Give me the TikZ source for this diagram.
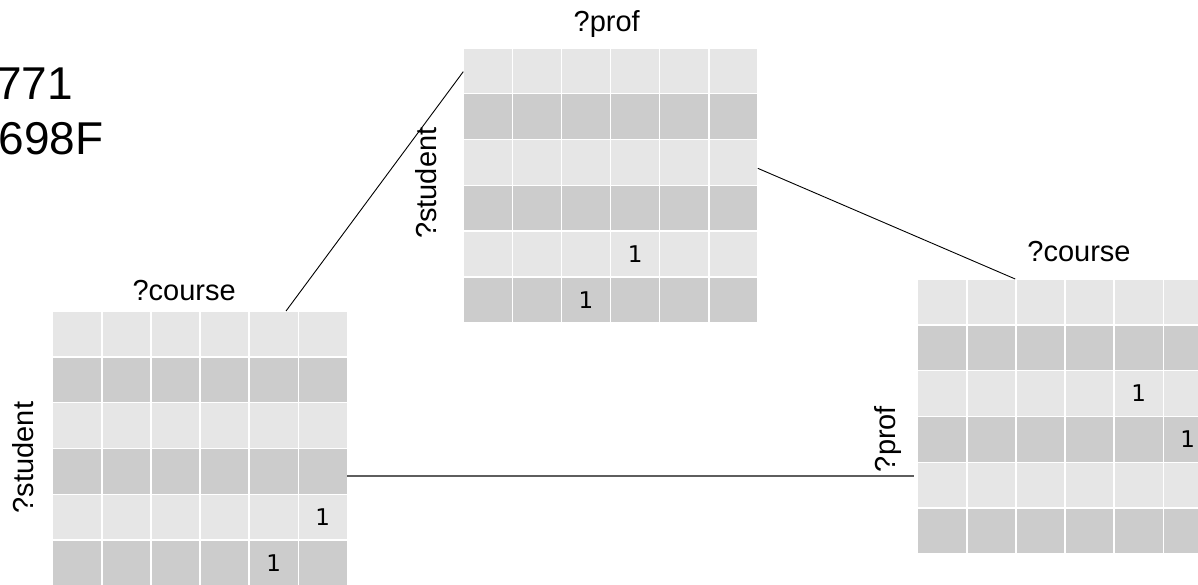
\documentclass[tikz,border=0pt]{standalone}
\usepackage{fontspec}
\setmainfont{Liberation Sans}
\newfontfamily\cellfont{DejaVu Sans}
\usetikzlibrary{calc}

\definecolor{rowlight}{HTML}{E6E6E6}
\definecolor{rowdark}{HTML}{CCCCCC}
\definecolor{linkgray}{HTML}{5E5E5E}

\tikzset{
  gridbox/.style={anchor=north west, minimum width=294.6bp, minimum height=274.8bp,
                  inner sep=0pt, outer sep=0pt},
  axislabel/.style={font=\fontsize{29bp}{34bp}\selectfont, inner sep=0pt},
  cellval/.style={font=\cellfont\fontsize{23bp}{27bp}\selectfont, inner sep=0pt},
  link/.style={black, line width=0.9bp},
  hlink/.style={linkgray, line width=1.6bp},
  bigtext/.style={font=\fontsize{46bp}{52bp}\selectfont, inner sep=0pt, anchor=base east},
}

% 6x6 grid of cells inside a named box, rows alternating light/dark
\newcommand\matrixcells[1]{%
  \foreach \r in {1,...,6}{%
    \ifodd\r\def\rowcol{rowlight}\else\def\rowcol{rowdark}\fi
    \foreach \c in {1,...,6}{%
      \filldraw[fill=\rowcol, draw=white, line width=1.4bp]
        ($(#1.north west)+({(\c-1)*49.1},{(\r-1)*45.8})$) rectangle ++(49.1,45.8);
    }%
  }%
}
% value placed in cell (row, column) of a named box
\newcommand\cellmark[4]{%
  \node[cellval] (#4) at ($(#1.north west)+({(#3-0.5)*49.1},{(#2-0.5)*45.8})$) {1};%
}

\begin{document}
\begin{tikzpicture}[x=1bp, y=-1bp]
  \useasboundingbox (0,0) rectangle (1198,585);
  \fill[white] (0,0) rectangle (1198,585);

  % identifier text
  \node[bigtext] (idA) at (73,99.5) {771};
  \node[bigtext] (idB) at (103.5,155) {698F};

  % the three matrices
  \node[gridbox] (L) at (52.7,311) {};
  \node[gridbox] (T) at (463.3,48) {};
  \node[gridbox] (R) at (917.7,279) {};
  \matrixcells{L}
  \matrixcells{T}
  \matrixcells{R}

  % entries
  \cellmark{L}{5}{6}{L56}
  \cellmark{L}{6}{5}{L65}
  \cellmark{T}{5}{4}{T54}
  \cellmark{T}{6}{3}{T63}
  \cellmark{R}{3}{5}{R35}
  \cellmark{R}{4}{6}{R46}

  % axis labels
  \node[axislabel, anchor=base] (Lcol) at (184.2,301) {?course};
  \node[axislabel, anchor=base, rotate=90] (Lrow) at (33.3,457.5) {?student};
  \node[axislabel, anchor=base] (Tcol) at (606.7,31.7) {?prof};
  \node[axislabel, anchor=base, rotate=90] (Trow) at (436.7,183.3) {?student};
  \node[axislabel, anchor=base] (Rcol) at (1079,261.7) {?course};
  \node[axislabel, anchor=base, rotate=90] (Rrow) at (895,439) {?prof};

  % connectors between the matrices
  \draw[link] ($(L.north west)!0.792!(L.north east)$) -- ($(T.north west)!0.086!(T.south west)$);
  \draw[link] ($(T.north east)!0.438!(T.south east)$) -- ($(R.north west)!0.331!(R.north east)$);
  \coordinate (hstart) at ($(L.north east)!0.6!(L.south east)$);
  \draw[hlink] (hstart) -- ([xshift=-4bp]hstart -| R.west);
\end{tikzpicture}
\end{document}
